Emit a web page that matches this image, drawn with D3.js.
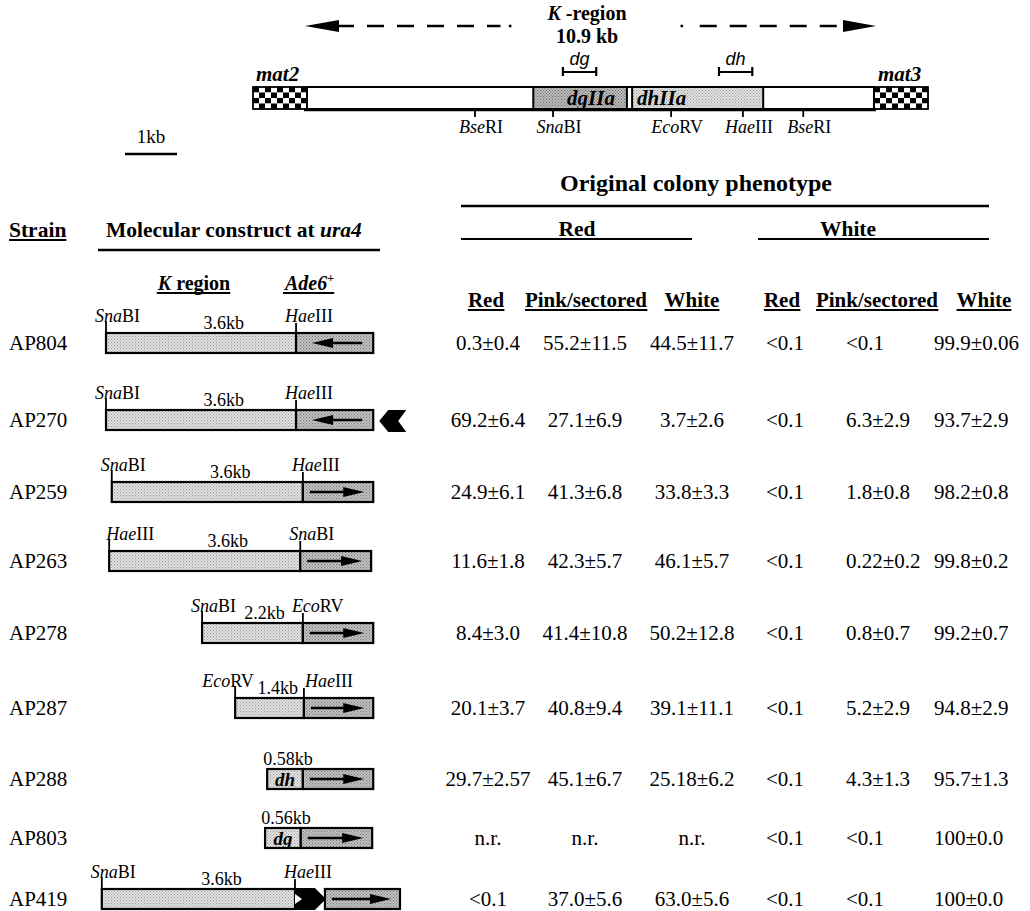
<!DOCTYPE html>
<html><head><meta charset="utf-8">
<script src="https://cdn.jsdelivr.net/npm/d3@7"></script>
<style>
body{margin:0;background:#fff}
svg{font-family:"Liberation Serif","Times New Roman",Times,"DejaVu Serif",serif}
text{fill:#000}
</style>
</head><body>
<svg id="c" width="1030" height="911"></svg>
<script>
// ---------------- DATA ----------------
// K-region map (kb from mat2 boundary)
const kRegionKb = 10.9;
const mapSiteNames = ["BseRI","SnaBI","EcoRV","HaeIII","BseRI"];
const mapSiteKb    = [3.23, 4.73, 7.0, 8.38, 9.54];
const repeatNames  = ["dgIIa","dhIIa"];
const repeatStartKb= [4.35, 6.25];
const repeatEndKb  = [6.15, 8.77];
const probeNames   = ["dg","dh"];
const probeStartKb = [4.92, 7.92];
const probeEndKb   = [5.56, 8.56];

// constructs at ura4 (kb along the drawing axis)
const strains   = ["AP804","AP270","AP259","AP263","AP278","AP287","AP288","AP803","AP419"];
const kbLabels  = ["3.6kb","3.6kb","3.6kb","3.6kb","2.2kb","1.4kb","0.58kb","0.56kb","3.6kb"];
const leftSite  = ["SnaBI","SnaBI","SnaBI","HaeIII","SnaBI","EcoRV",null,null,"SnaBI"];
const rightSite = ["HaeIII","HaeIII","HaeIII","SnaBI","EcoRV","HaeIII",null,null,"HaeIII"];
const insertName= [null,null,null,null,null,null,"dh","dg",null];
const kStart    = [0.00, 0.00, 0.11, 0.06, 1.83, 2.46, 3.07, 3.03, -0.08];
const kEnd      = [3.62, 3.62, 3.75, 3.70, 3.75, 3.77, 3.75, 3.71, 3.60];
const adeStart  = [3.62, 3.62, 3.75, 3.70, 3.75, 3.77, 3.75, 3.71, 4.17];
const adeEnd    = [5.09, 5.09, 5.09, 5.05, 5.09, 5.09, 5.09, 5.07, 5.60];
const ade6Dir   = ["<","<",">",">",">",">",">",">",">"];
const extraMark = [null,"tail",null,null,null,null,null,null,"linker"];

// phenotype table
const groupNames = ["Red","White"];
const subNames   = ["Red","Pink/sectored","White","Red","Pink/sectored","White"];
const redRed   = ["0.3±0.4","69.2±6.4","24.9±6.1","11.6±1.8","8.4±3.0","20.1±3.7","29.7±2.57","n.r.","<0.1"];
const redPink  = ["55.2±11.5","27.1±6.9","41.3±6.8","42.3±5.7","41.4±10.8","40.8±9.4","45.1±6.7","n.r.","37.0±5.6"];
const redWhite = ["44.5±11.7","3.7±2.6","33.8±3.3","46.1±5.7","50.2±12.8","39.1±11.1","25.18±6.2","n.r.","63.0±5.6"];
const whiteRed = ["<0.1","<0.1","<0.1","<0.1","<0.1","<0.1","<0.1","<0.1","<0.1"];
const whitePink= ["<0.1","6.3±2.9","1.8±0.8","0.22±0.2","0.8±0.7","5.2±2.9","4.3±1.3","<0.1","<0.1"];
const whiteWhite=["99.9±0.06","93.7±2.9","98.2±0.8","99.8±0.2","99.2±0.7","94.8±2.9","95.7±1.3","100±0.0","100±0.0"];

// ---------------- LAYOUT ----------------
const SERIF = '"Liberation Serif","Times New Roman",Times,"DejaVu Serif",serif';
const SANS  = '"Liberation Sans",Arial,Helvetica,sans-serif';
const svg = d3.select("#c").style("font-family", SERIF);
svg.append("rect").attr("width",1030).attr("height",911).attr("fill","#fff");
const defs = svg.append("defs");
function stipple(id, base, dot){
  const p = defs.append("pattern").attr("id",id).attr("width",3).attr("height",3)
    .attr("patternUnits","userSpaceOnUse");
  p.append("rect").attr("width",3).attr("height",3).attr("fill",base);
  p.append("rect").attr("width",1).attr("height",1).attr("fill",dot);
  p.append("rect").attr("x",1.5).attr("y",1.5).attr("width",1).attr("height",1).attr("fill",dot);
}
stipple("pK","#e4e4e4","#959595");
stipple("pA","#c2c2c2","#747474");
stipple("pDg","#bababa","#6c6c6c");
stipple("pDh","#e0e0e0","#9c9c9c");

function siteText(g, name, x, y, size, anchor){
  const t = g.append("text").attr("x",x).attr("y",y).attr("font-size",size)
    .attr("text-anchor",anchor||"start");
  t.append("tspan").attr("font-style","italic").text(name.slice(0,3));
  t.append("tspan").text(name.slice(3));
  return t;
}
function underline(t, y, w){
  const b = t.node().getBBox();
  svg.append("line").attr("x1",b.x).attr("x2",b.x+b.width).attr("y1",y).attr("y2",y)
    .attr("stroke","#000").attr("stroke-width",w||1.6);
}

// ---- top map ----
const mapX = d3.scaleLinear().domain([0,kRegionKb]).range([307,874]);
const gTop = svg.append("g");
const mTop = 87, mBot = 109;

const kt = gTop.append("text").attr("x",587).attr("y",20).attr("font-size",20)
  .attr("font-weight","bold").attr("text-anchor","middle");
kt.append("tspan").attr("font-style","italic").text("K");
kt.append("tspan").text(" -region");
gTop.append("text").attr("x",587).attr("y",43).attr("font-size",20).attr("font-weight","bold")
  .attr("text-anchor","middle").text("10.9 kb");
const ay = 26;
gTop.append("path").attr("d",`M${mapX(0)-2},${ay}L${mapX(0)+32},${ay-6}L${mapX(0)+32},${ay+6}Z`).attr("fill","#000");
gTop.append("path").attr("d",`M${mapX(kRegionKb)+2},${ay}L${mapX(kRegionKb)-31},${ay-6}L${mapX(kRegionKb)-31},${ay+6}Z`).attr("fill","#000");
gTop.append("line").attr("x1",mapX(0)+30).attr("x2",mapX(3.72)).attr("y1",ay).attr("y2",ay)
  .attr("stroke","#000").attr("stroke-width",2.5).attr("stroke-dasharray","17,13");
gTop.append("line").attr("x1",mapX(3.88)).attr("x2",mapX(3.93)).attr("y1",ay).attr("y2",ay).attr("stroke","#000").attr("stroke-width",2.5);
gTop.append("line").attr("x1",mapX(7.18)).attr("x2",mapX(7.23)).attr("y1",ay).attr("y2",ay).attr("stroke","#000").attr("stroke-width",2.5);
gTop.append("line").attr("x1",mapX(7.55)).attr("x2",mapX(kRegionKb)-30).attr("y1",ay).attr("y2",ay)
  .attr("stroke","#000").attr("stroke-width",2.5).attr("stroke-dasharray","17,13");

function checker(x0){
  const g = gTop.append("g");
  const cw = 6, ch = (mBot-mTop)/4;
  for(let r=0;r<4;r++) for(let c=0;c<9;c++){
    g.append("rect").attr("x",x0+c*cw).attr("y",mTop+r*ch).attr("width",cw).attr("height",ch)
      .attr("fill",(r+c)%2===0?"#000":"#fff");
  }
  g.append("rect").attr("x",x0).attr("y",mTop).attr("width",54).attr("height",mBot-mTop)
    .attr("fill","none").attr("stroke","#000").attr("stroke-width",1.8);
}
checker(mapX(0)-54);
checker(mapX(kRegionKb));
gTop.append("text").attr("x",mapX(0)-51).attr("y",mTop-6).attr("font-size",21).attr("font-weight","bold")
  .attr("font-style","italic").text("mat2");
gTop.append("text").attr("x",mapX(kRegionKb)+4).attr("y",mTop-6).attr("font-size",21).attr("font-weight","bold")
  .attr("font-style","italic").text("mat3");

gTop.append("rect").attr("x",mapX(0)).attr("y",mTop).attr("width",mapX(kRegionKb)-mapX(0)).attr("height",mBot-mTop)
  .attr("fill","#fff").attr("stroke","#000").attr("stroke-width",2);
gTop.append("line").attr("x1",mapX(0)-3).attr("x2",mapX(kRegionKb)+2).attr("y1",mBot+1).attr("y2",mBot+1)
  .attr("stroke","#000").attr("stroke-width",2.5);
repeatNames.forEach((n,i)=>{
  const x0 = mapX(repeatStartKb[i]), x1 = mapX(repeatEndKb[i]);
  gTop.append("rect").attr("x",x0).attr("y",mTop).attr("width",x1-x0).attr("height",mBot-mTop)
    .attr("fill",i===0?"url(#pDg)":"url(#pDh)").attr("stroke","#000").attr("stroke-width",2);
  gTop.append("text").attr("x",i===0?x1-12:x0+5).attr("y",mBot-4).attr("font-size",21)
    .attr("font-weight","bold").attr("font-style","italic").attr("text-anchor",i===0?"end":"start").text(n);
});
mapSiteNames.forEach((n,i)=>{
  const x = mapX(mapSiteKb[i]);
  gTop.append("line").attr("x1",x).attr("x2",x).attr("y1",mBot+1).attr("y2",mBot+8).attr("stroke","#000").attr("stroke-width",1.8);
  siteText(gTop, n, x+6, 133, 18, "middle");
});
probeNames.forEach((n,i)=>{
  const x0 = mapX(probeStartKb[i]), x1 = mapX(probeEndKb[i]), y = 72;
  gTop.append("path").attr("d",`M${x0},${y-5}V${y+4}M${x0},${y}H${x1}M${x1},${y-5}V${y+4}`)
    .attr("stroke","#000").attr("stroke-width",2.2).attr("fill","none");
  gTop.append("text").attr("x",(x0+x1)/2).attr("y",y-7).attr("font-size",18)
    .style("font-family",SANS).attr("font-style","italic")
    .attr("text-anchor","middle").text(n);
});
const sb0 = 125;
svg.append("text").attr("x",sb0+(mapX(1)-mapX(0))/2).attr("y",143).attr("font-size",19)
  .attr("text-anchor","middle").text("1kb");
svg.append("line").attr("x1",sb0).attr("x2",sb0+(mapX(1)-mapX(0))).attr("y1",154).attr("y2",154)
  .attr("stroke","#000").attr("stroke-width",2.5);

// ---- headers ----
svg.append("text").attr("x",696).attr("y",191).attr("font-size",24).attr("font-weight","bold")
  .attr("text-anchor","middle").text("Original colony phenotype");
svg.append("line").attr("x1",461).attr("x2",989).attr("y1",206).attr("y2",206).attr("stroke","#000").attr("stroke-width",2.5);
const groupSpan = [[461,692],[758,989]];
const groupCx = [577,848];
groupNames.forEach((n,i)=>{
  svg.append("text").attr("x",groupCx[i]).attr("y",236).attr("font-size",21.5).attr("font-weight","bold")
    .attr("text-anchor","middle").text(n);
  svg.append("line").attr("x1",groupSpan[i][0]).attr("x2",groupSpan[i][1]).attr("y1",239).attr("y2",239)
    .attr("stroke","#000").attr("stroke-width",2.2);
});
const st = svg.append("text").attr("x",9).attr("y",237).attr("font-size",21.5).attr("font-weight","bold").text("Strain");
underline(st, 240, 1.8);
const mc = svg.append("text").attr("x",106).attr("y",237).attr("font-size",21.5).attr("font-weight","bold");
mc.append("tspan").text("Molecular construct at ");
mc.append("tspan").attr("font-style","italic").text("ura4");
svg.append("line").attr("x1",98).attr("x2",380).attr("y1",250).attr("y2",250).attr("stroke","#000").attr("stroke-width",2.5);

const kr = svg.append("text").attr("x",194).attr("y",290).attr("font-size",20).attr("font-weight","bold").attr("text-anchor","middle");
kr.append("tspan").attr("font-style","italic").text("K");
kr.append("tspan").text(" region");
underline(kr, 293, 1.8);
const ad = svg.append("text").attr("x",285).attr("y",290).attr("font-size",20).attr("font-weight","bold").attr("font-style","italic");
ad.append("tspan").text("Ade6");
ad.append("tspan").attr("font-size",12).attr("dy",-8).attr("font-style","normal").text("+");
underline(ad, 293, 1.8);

const colCx = [486,586,692,782,877,984];
subNames.forEach((n,i)=>{
  const t = svg.append("text").attr("x",colCx[i]).attr("y",307).attr("font-size",21).attr("font-weight","bold")
    .attr("text-anchor","middle").text(n);
  underline(t, 310, 1.8);
});

// ---- rows ----
const rowY = [343, 420, 492, 561, 633, 708, 779, 838, 899];
const cx = d3.scaleLinear().domain([0,1]).range([106,158.5]);
const labelShift = {AP287:[-22,12], AP263:[8,0]};

strains.forEach((s,i)=>{
  const cy = rowY[i], bt = cy-10, bh = 20;
  const g = svg.append("g");
  g.append("text").attr("x",9).attr("y",cy+7).attr("font-size",21).text(s);
  const xs = cx(kStart[i]), xj = cx(kEnd[i]), xa = cx(adeStart[i]), xe = cx(adeEnd[i]);
  const sh = labelShift[s] || [0,0];
  if(leftSite[i]){
    g.append("line").attr("x1",xs).attr("x2",xs).attr("y1",bt-12).attr("y2",bt).attr("stroke","#000").attr("stroke-width",1.8);
    siteText(g, leftSite[i], xs-11+sh[0], bt-11, 18);
  }
  if(rightSite[i]){
    g.append("line").attr("x1",xj).attr("x2",xj).attr("y1",bt-10).attr("y2",bt).attr("stroke","#000").attr("stroke-width",1.8);
    siteText(g, rightSite[i], xj-11+sh[1], bt-11, 18);
  }
  const kbx = leftSite[i] ? (xs+xj)/2 + 0.12*(xj-xs) : (xs+xj)/2 + 3;
  g.append("text").attr("x",kbx).attr("y",bt-4).attr("font-size",18).attr("text-anchor","middle").text(kbLabels[i]);
  g.append("rect").attr("x",xs).attr("y",bt).attr("width",xj-xs).attr("height",bh)
    .attr("fill","url(#pK)").attr("stroke","#000").attr("stroke-width",2.2);
  if(insertName[i]){
    g.append("text").attr("x",(xs+xj)/2).attr("y",cy+7).attr("font-size",19).attr("font-weight","bold")
      .attr("font-style","italic").attr("text-anchor","middle").text(insertName[i]);
  }
  g.append("rect").attr("x",xa).attr("y",bt).attr("width",xe-xa).attr("height",bh)
    .attr("fill","url(#pA)").attr("stroke","#000").attr("stroke-width",2.2);
  if(ade6Dir[i] === ">"){
    const x1 = xa+7, x2 = xe-9;
    g.append("line").attr("x1",x1).attr("x2",x2-14).attr("y1",cy).attr("y2",cy).attr("stroke","#000").attr("stroke-width",2.5);
    g.append("path").attr("d",`M${x2},${cy}L${x2-21},${cy-5}L${x2-21},${cy+5}Z`).attr("fill","#000");
  } else {
    const x1 = xa+16, x2 = xe-11;
    g.append("line").attr("x1",x1+14).attr("x2",x2).attr("y1",cy).attr("y2",cy).attr("stroke","#000").attr("stroke-width",2.5);
    g.append("path").attr("d",`M${x1},${cy}L${x1+21},${cy-5}L${x1+21},${cy+5}Z`).attr("fill","#000");
  }
  if(extraMark[i]==="tail"){
    const x0 = xe+6;
    g.append("path").attr("d",`M${x0},${cy+1}L${x0+9},${bt}L${x0+27},${bt}L${x0+19},${cy+1}L${x0+27},${bt+bh+2}L${x0+9},${bt+bh+2}Z`).attr("fill","#000");
  }
  if(extraMark[i]==="linker"){
    g.append("path").attr("d",`M${xj},${bt-1}L${xa-10},${bt-1}L${xa+1},${cy}L${xa-10},${bt+bh+1}L${xj},${bt+bh+1}Z`).attr("fill","#000");
    g.append("path").attr("d",`M${xj},${cy-5}L${xj+7},${cy}L${xj},${cy+5}Z`).attr("fill","#fff");
  }
});

const cols = [redRed, redPink, redWhite, whiteRed, whitePink, whiteWhite];
const valX = [488, 585, 692, 785, 846, 934];
const valAnchor = ["middle","middle","middle","middle","start","start"];
cols.forEach((col,c)=>{
  svg.append("g").selectAll("text").data(col).join("text")
    .attr("x",valX[c]).attr("y",(d,i)=>rowY[i]+7).attr("font-size",21)
    .attr("text-anchor",valAnchor[c]).text(d=>d);
});
</script>
</body></html>
